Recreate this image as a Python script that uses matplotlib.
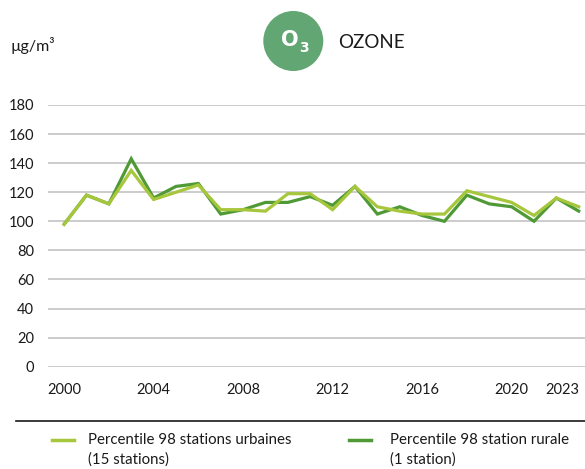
import matplotlib

matplotlib.use("Agg")
import matplotlib.pyplot as plt
from matplotlib.patches import Ellipse
from matplotlib.lines import Line2D
from matplotlib.transforms import ScaledTranslation

plt.rcParams["font.family"] = ["Lato", "DejaVu Sans"]

# P98 ozone, ug/m3
years = list(range(2000, 2024))
urban = [98, 118, 112, 135, 115, 120, 125, 108, 108, 107, 119, 119,
         108, 124, 110, 107, 105, 105, 121, 117, 113, 104, 116, 110]
rural = [98, 118, 112, 143, 116, 124, 126, 105, 108, 113, 113, 117,
         111, 124, 105, 110, 104, 100, 118, 112, 110, 100, 116, 107]
xticks = [2000, 2004, 2008, 2012, 2016, 2020, 2023]
yticks = list(range(0, 181, 20))
label_urban = ["Percentile 98 stations urbaines", "(15 stations)"]
label_rural = ["Percentile 98 station rurale", "(1 station)"]

LIGHT = "#a6c63c"
DARK = "#4f9a36"
TXT = "#1a1a1a"
W, H = 585, 469


def fx(px):
    return px / W


def fy(py):
    return 1 - py / H


fig = plt.figure(figsize=(W / 100, H / 100), dpi=100)
ax = fig.add_axes([fx(48), fy(366.7), 1 - fx(48), fy(105) - fy(366.7)])

ax.plot(years, rural, color=DARK, lw=2.3, solid_joinstyle="miter", zorder=3)
ax.plot(years, urban, color=LIGHT, lw=2.3, solid_joinstyle="miter", zorder=4)

ax.set_xlim(1999.28, 2023.28)
ax.set_ylim(0, 180)
ax.set_yticks(yticks)
ax.set_xticks(xticks)
ax.set_xticklabels([str(y) for y in xticks])
ax.grid(axis="y", color="#c4c4c4", lw=1.2)
ax.grid(axis="x", visible=False)
for s in ax.spines.values():
    s.set_visible(False)
ax.tick_params(axis="y", length=0, pad=10, labelsize=10.5, labelcolor=TXT)
ax.tick_params(axis="x", length=0, pad=12, labelsize=10.5, labelcolor=TXT)
last = ax.get_xticklabels()[-1]
last.set_transform(last.get_transform() + ScaledTranslation(-0.16, 0, fig.dpi_scale_trans))

# header
fig.text(fx(11), fy(46), "µg/m³", fontsize=11.5, va="center", ha="left", color=TXT)
fig.add_artist(Ellipse((fx(293.3), fy(41)), 60 / W, 60 / H, transform=fig.transFigure,
                       color="#62a673", lw=0))
fig.text(fx(289.5), fy(40), "O", fontsize=15, fontweight="bold", color="white",
         ha="center", va="center", family="DejaVu Sans")
fig.text(fx(303.5), fy(48), "3", fontsize=10, fontweight="bold", color="white",
         ha="center", va="center", family="DejaVu Sans")
fig.text(fx(338), fy(43), "OZONE", fontsize=13.5, color=TXT, ha="left", va="center")

# separator + legend
fig.add_artist(Line2D([fx(16), 1], [fy(420.7), fy(420.7)], transform=fig.transFigure,
                      color=TXT, lw=1.2))
fig.add_artist(Line2D([fx(52), fx(74)], [fy(440), fy(440)], transform=fig.transFigure,
                      color=LIGHT, lw=2.5))
fig.add_artist(Line2D([fx(349), fx(371)], [fy(440), fy(440)], transform=fig.transFigure,
                      color=DARK, lw=2.5))
for x0, lines in [(88, label_urban), (390, label_rural)]:
    for i, s in enumerate(lines):
        fig.text(fx(x0), fy(440 + 20 * i), s, fontsize=10.8, ha="left", va="center",
                 color=TXT)

fig.savefig("out.png", dpi=100)
